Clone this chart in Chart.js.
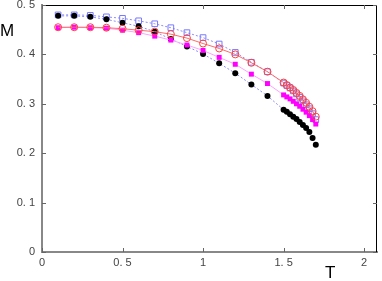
<!DOCTYPE html>
<html>
<head>
<meta charset="utf-8">
<script src="https://cdn.jsdelivr.net/npm/chart.js@4.4.0/dist/chart.umd.min.js"></script>
<style>
  html, body { margin: 0; padding: 0; background: #fff; }
  #wrap { width: 382px; height: 281px; position: relative; }
</style>
</head>
<body>
<div id="wrap"><canvas id="chart"></canvas></div>
<script>
// ===== Data =====
const tValues = [0.1, 0.2, 0.3, 0.4, 0.5, 0.6, 0.7, 0.8, 0.9, 1.0, 1.1, 1.2, 1.3, 1.4,
                 1.5, 1.52, 1.54, 1.56, 1.58, 1.6, 1.62, 1.64, 1.66, 1.68, 1.7];

const blueSquares = [0.480, 0.480, 0.479, 0.476, 0.473, 0.468, 0.462, 0.454, 0.444, 0.434, 0.421, 0.404, 0.384, 0.365,
                     0.342, 0.337, 0.332, 0.326, 0.320, 0.313, 0.306, 0.298, 0.290, 0.280, 0.268];
const blackCircles = [0.478, 0.478, 0.476, 0.471, 0.464, 0.457, 0.446, 0.431, 0.416, 0.401, 0.382, 0.362, 0.339, 0.316,
                      0.288, 0.284, 0.279, 0.274, 0.269, 0.263, 0.257, 0.251, 0.243, 0.231, 0.217];
const magentaSquares = [0.454, 0.455, 0.454, 0.453, 0.449, 0.444, 0.437, 0.429, 0.419, 0.408, 0.394, 0.380, 0.360, 0.341,
                        0.318, 0.314, 0.310, 0.305, 0.300, 0.295, 0.289, 0.283, 0.276, 0.268, 0.259];
const redCircles = [0.455, 0.455, 0.455, 0.454, 0.452, 0.449, 0.446, 0.441, 0.433, 0.422, 0.412, 0.400, 0.383, 0.365,
                    0.343, 0.338, 0.333, 0.328, 0.322, 0.316, 0.309, 0.302, 0.294, 0.285, 0.274];

const xTicks = [0, 0.5, 1, 1.5, 2];
const yTicks = [0, 0.1, 0.2, 0.3, 0.4, 0.5];

function pts(ys) {
    return tValues.map((t, i) => ({ x: t, y: ys[i] }));
}

function fmt(v) {
    // reference prints decimals as "0. 5"
    return String(Math.round(v * 10) / 10).replace('.', '. ');
}

// ===== Frame, inward ticks, axis letters =====
const framePlugin = {
    id: 'frame',
    afterDraw(chart) {
        const { ctx, chartArea: a, scales } = chart;
        ctx.save();
        ctx.strokeStyle = '#000';
        ctx.lineWidth = 1;
        ctx.beginPath();
        ctx.moveTo(a.left, a.top + 0.5);
        ctx.lineTo(a.right - 0.5, a.top + 0.5);
        ctx.lineTo(a.right - 0.5, a.bottom);
        ctx.stroke();

        ctx.strokeStyle = '#666';
        ctx.beginPath();
        xTicks.forEach(v => {
            const x = Math.round(scales.x.getPixelForValue(v)) + 0.5;
            ctx.moveTo(x, a.bottom); ctx.lineTo(x, a.bottom - 4);
            ctx.moveTo(x, a.top); ctx.lineTo(x, a.top + 4);
        });
        yTicks.forEach(v => {
            const y = Math.round(scales.y.getPixelForValue(v)) + 0.5;
            ctx.moveTo(a.left, y); ctx.lineTo(a.left + 4, y);
            ctx.moveTo(a.right, y); ctx.lineTo(a.right - 4, y);
        });
        ctx.stroke();

        ctx.fillStyle = '#000';
        ctx.font = '17px "Liberation Sans", Arial, sans-serif';
        ctx.textAlign = 'left';
        ctx.textBaseline = 'middle';
        ctx.fillText('M', 0, 31);
        ctx.fillText('T', 325, 273);
        ctx.restore();
    }
};

const tickFont = { family: '"Liberation Sans", Arial, sans-serif', size: 11 };

new Chart(document.getElementById('chart'), {
    type: 'scatter',
    data: {
        datasets: [
            {
                data: pts(redCircles), showLine: true,
                borderColor: '#ff6a6a', borderWidth: 1,
                pointStyle: 'circle', pointRadius: 3.5,
                pointBorderColor: '#ff4040', pointBackgroundColor: 'rgba(0,0,0,0)', pointBorderWidth: 1
            },
            {
                data: pts(magentaSquares), showLine: true,
                borderColor: '#ffa0ff', borderWidth: 1,
                pointStyle: 'rect', pointRadius: 3.5,
                pointBorderColor: '#ff00ff', pointBackgroundColor: '#ff00ff', pointBorderWidth: 0
            },
            {
                data: pts(blackCircles), showLine: true,
                borderColor: '#8c8cff', borderWidth: 1, borderDash: [2, 2],
                pointStyle: 'circle', pointRadius: 3,
                pointBorderColor: '#000', pointBackgroundColor: '#000', pointBorderWidth: 0
            },
            {
                data: pts(blueSquares), showLine: true,
                borderColor: '#8c8cff', borderWidth: 1, borderDash: [2, 2],
                pointStyle: 'rect', pointRadius: 4,
                pointBorderColor: '#7878ff', pointBackgroundColor: 'rgba(0,0,0,0)', pointBorderWidth: 1
            }
        ]
    },
    options: {
        responsive: true,
        maintainAspectRatio: false,
        animation: false,
        layout: { padding: { top: 5, right: 3, left: 0, bottom: 0 } },
        plugins: {
            legend: { display: false },
            tooltip: { enabled: false }
        },
        scales: {
            x: {
                type: 'linear', min: 0, max: 2.08,
                grid: { display: false, drawTicks: false, tickLength: 0 },
                border: { display: true, color: '#888', width: 2 },
                afterBuildTicks: s => { s.ticks = xTicks.map(v => ({ value: v })); },
                afterFit: s => { s.height = 29; s.paddingLeft = 0; s.paddingRight = 0; },
                ticks: { color: '#444', font: tickFont, padding: 4, maxRotation: 0, callback: v => fmt(v) }
            },
            y: {
                type: 'linear', min: 0, max: 0.5,
                grid: { display: false, drawTicks: false, tickLength: 0 },
                border: { display: true, color: '#888', width: 2 },
                afterBuildTicks: s => { s.ticks = yTicks.map(v => ({ value: v })); },
                afterFit: s => { s.width = 42; s.paddingTop = 0; s.paddingBottom = 0; },
                ticks: { color: '#444', font: tickFont, padding: 7, callback: v => fmt(v) }
            }
        }
    },
    plugins: [framePlugin]
});
</script>
</body>
</html>
